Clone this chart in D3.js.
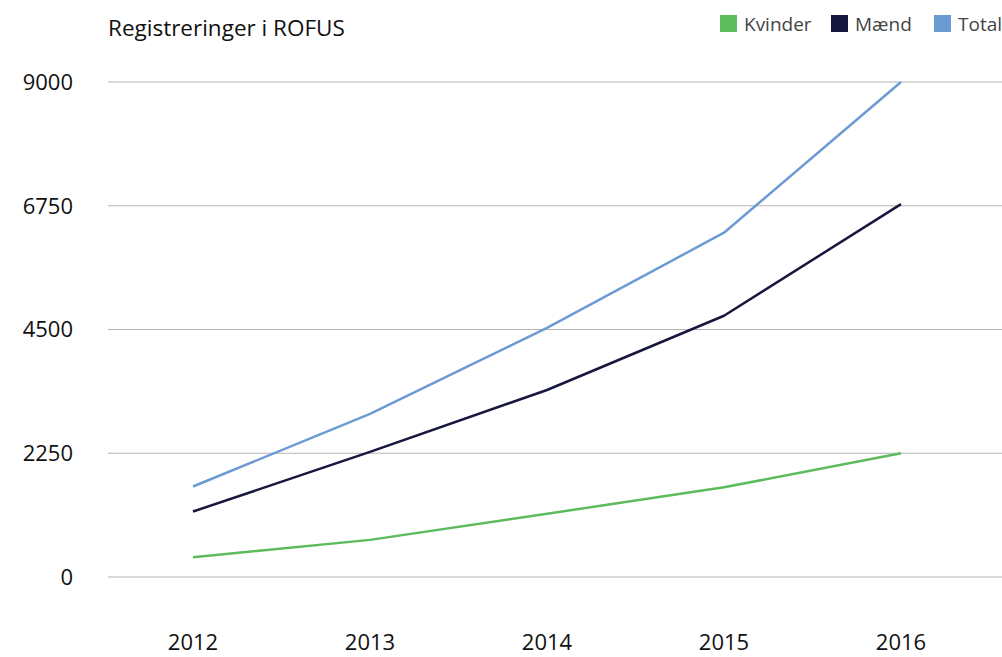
<!DOCTYPE html>
<html>
<head>
<meta charset="utf-8">
<script src="https://cdn.jsdelivr.net/npm/d3@7"></script>
<style>
  body { margin: 0; background: #fff; }
  text { font-family: "Open Sans", Roboto, sans-serif; }
</style>
</head>
<body>
<div id="chart"></div>
<script>
// data
var years = [2012, 2013, 2014, 2015, 2016];
var kvinder = [360, 675, 1150, 1630, 2250];
var maend = [1190, 2275, 3400, 4750, 6780];
var total = [1645, 2965, 4530, 6260, 9000];
var yTicks = [0, 2250, 4500, 6750, 9000];

var series = [
  {name: "Kvinder", values: kvinder, color: "#5cbb5c"},
  {name: "Mænd", values: maend, color: "#16163f"},
  {name: "Total", values: total, color: "#6b9bd2"}
];

var width = 1002, height = 657;
var margin = {top: 82, right: 0, bottom: 80, left: 108};

var svg = d3.select("#chart").append("svg")
    .attr("width", width)
    .attr("height", height);

var x = d3.scalePoint()
    .domain(years)
    .range([193, 901]);

var y = d3.scaleLinear()
    .domain([0, 9000])
    .range([577, margin.top]);

// gridlines
svg.append("g")
  .selectAll("line")
  .data(yTicks)
  .enter().append("line")
    .attr("x1", margin.left)
    .attr("x2", width)
    .attr("y1", function(d) { return y(d); })
    .attr("y2", function(d) { return y(d); })
    .style("stroke", "#b3b3b3")
    .style("stroke-width", 1.2);

// y labels
svg.append("g")
  .selectAll("text")
  .data(yTicks)
  .enter().append("text")
    .attr("x", 73)
    .attr("y", function(d) { return y(d); })
    .attr("dy", "0.36em")
    .attr("text-anchor", "end")
    .style("font-size", "22px")
    .style("fill", "#111")
    .text(function(d) { return d; });

// x labels
svg.append("g")
  .selectAll("text")
  .data(years)
  .enter().append("text")
    .attr("x", function(d) { return x(d); })
    .attr("y", 650)
    .attr("text-anchor", "middle")
    .style("font-size", "22px")
    .style("fill", "#111")
    .text(function(d) { return d; });

var line = d3.line()
    .x(function(d, i) { return x(years[i]); })
    .y(function(d) { return y(d); });

svg.append("g")
  .selectAll("path")
  .data(series)
  .enter().append("path")
    .attr("d", function(s) { return line(s.values); })
    .style("fill", "none")
    .style("stroke", function(s) { return s.color; })
    .style("stroke-width", 2.5)
    .style("stroke-linejoin", "round");

// title
svg.append("text")
    .attr("x", 108)
    .attr("y", 36)
    .style("font-size", "22.5px")
    .style("fill", "#111")
    .text("Registreringer i ROFUS");

// legend
var legendX = [720, 831, 934];
var legend = svg.append("g")
  .selectAll("g")
  .data(series)
  .enter().append("g")
    .attr("transform", function(d, i) { return "translate(" + legendX[i] + ",15)"; });

legend.append("rect")
    .attr("width", 17)
    .attr("height", 17)
    .style("fill", function(d) { return d.color; });

legend.append("text")
    .attr("x", 24)
    .attr("y", 16)
    .style("font-size", "19px")
    .style("fill", "#444")
    .text(function(d) { return d.name; });
</script>
</body>
</html>
